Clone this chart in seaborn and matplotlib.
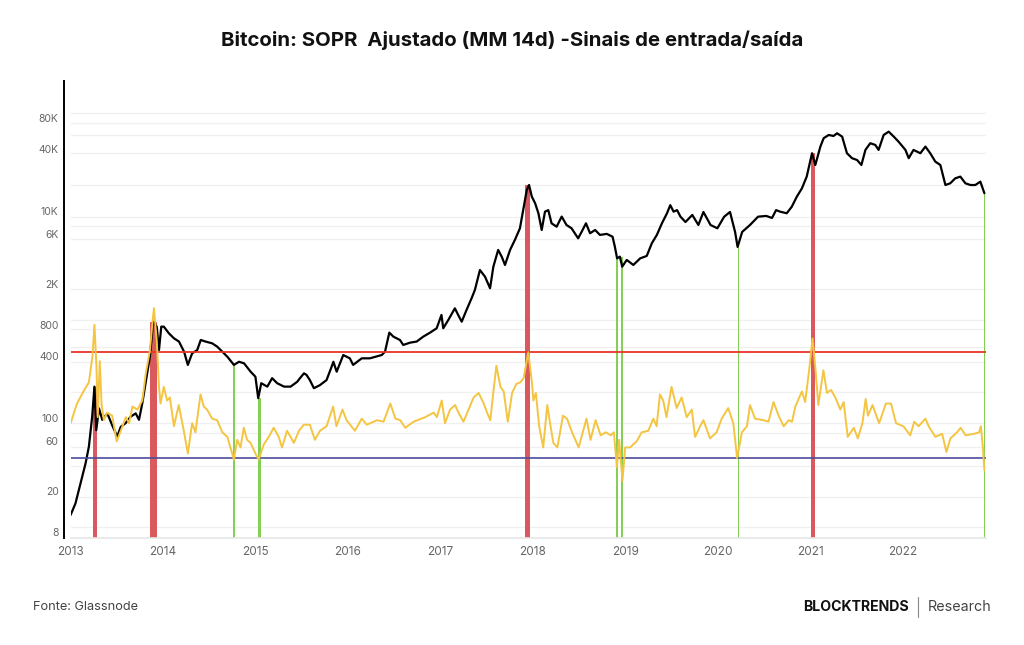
import numpy as np
import pandas as pd
import matplotlib
matplotlib.use("Agg")
import matplotlib.pyplot as plt
import matplotlib.dates as mdates
from matplotlib.lines import Line2D
from matplotlib.ticker import FixedLocator, FixedFormatter, NullFormatter
import seaborn as sns

sns.set_theme(style="white")
plt.rcParams["font.family"] = ["Inter", "DejaVu Sans"]

#=========================================================================================
# Data
#=========================================================================================

# Bitcoin price (USD, log axis)
price_dates = [
    "2013-01-01", "2013-01-20", "2013-02-09", "2013-03-01", "2013-03-14", "2013-03-27", "2013-04-05",
    "2013-04-12", "2013-04-23", "2013-05-06", "2013-05-26", "2013-06-14", "2013-07-04", "2013-07-18",
    "2013-08-06", "2013-08-26", "2013-09-15", "2013-09-28", "2013-10-11", "2013-10-24", "2013-11-10",
    "2013-11-23", "2013-12-07", "2013-12-16", "2013-12-25",
    "2014-01-04", "2014-01-24", "2014-02-13", "2014-03-05", "2014-03-25", "2014-04-09", "2014-04-26",
    "2014-05-16", "2014-05-30", "2014-06-18", "2014-07-14", "2014-08-03", "2014-08-23", "2014-09-12",
    "2014-10-08", "2014-10-28", "2014-11-17", "2014-12-13",
    "2015-01-01", "2015-01-12", "2015-01-24", "2015-02-17", "2015-03-08", "2015-03-28", "2015-04-24",
    "2015-05-20", "2015-06-15", "2015-06-26", "2015-07-12", "2015-07-22", "2015-08-04", "2015-08-20",
    "2015-09-13", "2015-10-09", "2015-10-29", "2015-11-05", "2015-11-18", "2015-12-14",
    "2016-01-09", "2016-01-22", "2016-02-25", "2016-03-28", "2016-05-14", "2016-05-27", "2016-06-13",
    "2016-06-29", "2016-07-25", "2016-08-07", "2016-09-03", "2016-09-29", "2016-10-25", "2016-11-21",
    "2016-12-17",
    "2017-01-05", "2017-01-12", "2017-02-01", "2017-02-27", "2017-03-12", "2017-03-26", "2017-04-14",
    "2017-05-04", "2017-05-17", "2017-06-06", "2017-06-26", "2017-07-16", "2017-07-29", "2017-08-17",
    "2017-08-31", "2017-09-13", "2017-10-03", "2017-10-22", "2017-11-11", "2017-11-24", "2017-12-08",
    "2017-12-17", "2017-12-28",
    "2018-01-10", "2018-01-23", "2018-02-05", "2018-02-18", "2018-03-03", "2018-03-16", "2018-04-05",
    "2018-04-25", "2018-05-14", "2018-06-03", "2018-06-29", "2018-07-13", "2018-07-30", "2018-08-15",
    "2018-09-04", "2018-09-23", "2018-10-20", "2018-11-12", "2018-11-21", "2018-11-30", "2018-12-11",
    "2018-12-20",
    "2019-01-07", "2019-02-02", "2019-03-01", "2019-03-27", "2019-04-16", "2019-05-06", "2019-05-26",
    "2019-06-15", "2019-06-28", "2019-07-11", "2019-07-25", "2019-08-07", "2019-08-27", "2019-09-23",
    "2019-10-17", "2019-11-06", "2019-12-04", "2019-12-31",
    "2020-01-27", "2020-02-19", "2020-03-10", "2020-03-20", "2020-04-07", "2020-05-08", "2020-06-09",
    "2020-07-11", "2020-08-03", "2020-08-19", "2020-09-04", "2020-09-30", "2020-10-20", "2020-11-09",
    "2020-11-29", "2020-12-18",
    "2021-01-08", "2021-01-21", "2021-02-10", "2021-02-23", "2021-03-15", "2021-04-03", "2021-04-17",
    "2021-05-07", "2021-05-26", "2021-06-15", "2021-07-05", "2021-07-22", "2021-08-07", "2021-08-26",
    "2021-09-15", "2021-09-28", "2021-10-18", "2021-11-07", "2021-11-27", "2021-12-16",
    "2022-01-12", "2022-01-25", "2022-02-13", "2022-03-12", "2022-04-01", "2022-04-20", "2022-05-10",
    "2022-05-30", "2022-06-19", "2022-07-08", "2022-07-28", "2022-08-17", "2022-09-06", "2022-09-26",
    "2022-10-15", "2022-11-04", "2022-11-20",
]
price_usd = [
    11.7, 15.1, 23.7, 36.9, 53.4, 104, 203,
    77, 125, 97, 112, 86, 67, 83,
    90, 104, 112, 97, 140, 219, 395,
    861, 771, 458, 771,
    771, 665, 595, 553, 442, 329, 426,
    458, 573, 553, 532, 494, 442, 395,
    329, 353, 341, 283,
    253, 157, 219, 203, 245, 219, 203,
    203, 226, 245, 273, 263, 235, 196,
    210, 235, 316, 353, 283, 410,
    381, 329, 381, 381, 410, 442, 675,
    617, 573, 513, 540, 553, 617, 675,
    743,
    1000, 743, 894, 1159, 1000, 861, 1117,
    1449, 1742, 2718, 2342, 1811, 2925, 4246,
    3657, 3040, 4246, 5300, 6871, 10300, 16100,
    18000, 13900,
    12000, 9600, 6620, 9950, 10300, 7680, 7120,
    8920, 7400, 6871, 5500, 6370, 7680, 6150,
    6620, 5930, 6070, 5700, 4570, 3520, 3657,
    2925,
    3400, 3040, 3520, 3715, 4920, 5930, 7680,
    9600, 11500, 9950, 10300, 8920, 7900, 9250,
    7400, 9880, 7400, 6870,
    8900, 9880, 6340, 4540, 6340, 7400, 8900,
    9050, 8650, 10300, 9950, 9600, 11100, 13900,
    16700, 21700,
    36500, 28100, 42300, 51000, 54800, 53600, 56900,
    52800, 36500, 32700, 31400, 28100, 39300, 45600,
    43900, 39300, 54800, 59000, 52800, 47200,
    39300, 32700, 39300, 36500, 42300, 36500, 30300,
    28100, 18000, 18700, 20900, 21700, 18700, 18000,
    18000, 19400, 15000,
]

# SOPR ajustado, media movel 14 dias
sopr_dates = [
    "2013-01-01", "2013-01-26", "2013-02-24", "2013-03-14", "2013-03-28", "2013-04-05", "2013-04-13",
    "2013-04-18", "2013-04-26", "2013-05-03", "2013-05-12", "2013-05-25", "2013-06-14", "2013-07-02",
    "2013-07-18", "2013-08-07", "2013-08-20", "2013-09-02", "2013-09-22", "2013-10-11", "2013-10-25",
    "2013-11-10", "2013-11-20", "2013-11-26", "2013-12-07", "2013-12-16", "2013-12-22",
    "2014-01-04", "2014-01-17", "2014-01-28", "2014-02-13", "2014-03-04", "2014-03-24", "2014-04-09",
    "2014-04-26", "2014-05-09", "2014-05-29", "2014-06-11", "2014-06-24", "2014-07-14", "2014-08-03",
    "2014-08-23", "2014-09-12", "2014-10-08", "2014-10-21", "2014-11-03", "2014-11-16", "2014-11-29",
    "2014-12-13",
    "2015-01-01", "2015-01-14", "2015-02-03", "2015-02-23", "2015-03-14", "2015-04-03", "2015-04-16",
    "2015-05-06", "2015-06-02", "2015-06-22", "2015-07-11", "2015-08-04", "2015-08-24", "2015-09-13",
    "2015-10-09", "2015-11-04", "2015-11-17", "2015-12-11", "2015-12-27",
    "2016-01-29", "2016-02-25", "2016-03-16", "2016-04-25", "2016-05-21", "2016-06-17", "2016-07-07",
    "2016-07-26", "2016-08-15", "2016-09-17", "2016-11-02", "2016-12-05", "2016-12-18",
    "2017-01-06", "2017-01-19", "2017-02-08", "2017-02-28", "2017-03-13", "2017-04-02", "2017-04-22",
    "2017-05-12", "2017-06-01", "2017-06-21", "2017-07-04", "2017-07-17", "2017-07-30", "2017-08-10",
    "2017-08-26", "2017-09-08", "2017-09-24", "2017-10-11", "2017-10-28", "2017-11-13", "2017-11-26",
    "2017-12-14", "2017-12-29",
    "2018-01-03", "2018-01-13", "2018-01-26", "2018-02-11", "2018-02-27", "2018-03-10", "2018-03-23",
    "2018-04-08", "2018-04-30", "2018-05-16", "2018-06-05", "2018-07-01", "2018-08-01", "2018-08-17",
    "2018-09-06", "2018-09-26", "2018-10-16", "2018-11-05", "2018-11-17", "2018-11-29", "2018-12-08",
    "2018-12-21",
    "2019-01-01", "2019-01-20", "2019-02-15", "2019-03-07", "2019-04-02", "2019-04-22", "2019-05-05",
    "2019-05-18", "2019-05-31", "2019-06-13", "2019-07-03", "2019-07-23", "2019-08-12", "2019-09-01",
    "2019-09-21", "2019-10-04", "2019-10-24", "2019-11-06", "2019-12-02", "2019-12-28",
    "2020-01-17", "2020-02-12", "2020-03-03", "2020-03-18", "2020-04-06", "2020-04-26", "2020-05-08",
    "2020-05-28", "2020-06-30", "2020-07-20", "2020-08-09", "2020-08-29", "2020-09-18", "2020-10-08",
    "2020-10-21", "2020-11-03", "2020-11-16", "2020-11-29", "2020-12-12", "2020-12-29",
    "2021-01-10", "2021-01-21", "2021-02-02", "2021-02-22", "2021-03-08", "2021-03-24", "2021-04-10",
    "2021-04-30", "2021-05-13", "2021-05-29", "2021-06-22", "2021-07-08", "2021-07-26", "2021-08-08",
    "2021-08-17", "2021-09-04", "2021-09-30", "2021-10-27", "2021-11-16", "2021-12-06",
    "2022-01-04", "2022-01-31", "2022-02-16", "2022-03-05", "2022-04-01", "2022-04-14", "2022-05-10",
    "2022-06-06", "2022-06-23", "2022-07-09", "2022-08-04", "2022-08-18", "2022-09-07", "2022-10-10",
    "2022-10-30", "2022-11-06", "2022-11-14", "2022-11-20",
]
sopr_values = [
    1.003, 1.016, 1.025, 1.030, 1.047, 1.068, 1.040,
    1.007, 1.044, 1.016, 1.005, 1.010, 1.008, 0.991,
    0.998, 1.007, 1.003, 1.014, 1.012, 1.018, 1.036,
    1.051, 1.069, 1.079, 1.058, 1.027, 1.016,
    1.027, 1.018, 1.020, 1.001, 1.015, 0.998, 0.983,
    1.003, 0.997, 1.022, 1.014, 1.012, 1.006, 1.005,
    0.997, 0.994, 0.979, 0.992, 0.987, 1.000, 0.992,
    0.990,
    0.983, 0.979, 0.989, 0.994, 1.000, 0.994, 0.987,
    0.998, 0.990, 0.998, 1.002, 1.002, 0.992, 0.998,
    1.001, 1.014, 1.001, 1.012, 1.005,
    0.998, 1.006, 1.002, 1.005, 1.004, 1.016, 1.006,
    1.005, 1.000, 1.004, 1.007, 1.010, 1.007,
    1.018, 1.003, 1.012, 1.015, 1.010, 1.004, 1.012,
    1.020, 1.023, 1.016, 1.010, 1.005, 1.025, 1.041,
    1.027, 1.024, 1.004, 1.023, 1.029, 1.030, 1.033,
    1.050, 1.029,
    1.018, 1.023, 1.001, 0.987, 1.015, 1.003, 0.990,
    0.987, 1.008, 1.006, 0.997, 0.987, 1.006, 0.992,
    1.005, 0.995, 0.997, 0.995, 0.997, 0.974, 0.992,
    0.965,
    0.987, 0.987, 0.991, 0.997, 0.998, 1.006, 1.001,
    1.022, 1.018, 1.007, 1.027, 1.013, 1.020, 1.007,
    1.012, 0.994, 1.001, 1.005, 0.993, 0.997,
    1.006, 1.013, 1.003, 0.980, 0.997, 1.001, 1.015,
    1.006, 1.005, 1.004, 1.017, 1.008, 1.001, 1.005,
    1.004, 1.014, 1.019, 1.024, 1.017, 1.040,
    1.059, 1.040, 1.015, 1.038, 1.023, 1.025, 1.020,
    1.012, 1.017, 0.994, 1.000, 0.993, 1.003, 1.019,
    1.008, 1.015, 1.003, 1.016, 1.016, 1.003,
    1.001, 0.995, 1.004, 1.001, 1.006, 1.001, 0.994,
    0.996, 0.984, 0.993, 0.997, 1.000, 0.995, 0.996,
    0.997, 1.001, 0.987, 0.972,
]

# Thresholds for the signals (SOPR)
sopr_exit_level = 1.05
sopr_entry_level = 0.98

# Exit signals (red) and entry signals (green): window start, window end, price at the signal
exit_start = ["2013-03-30", "2013-11-11", "2017-12-03", "2021-01-04"]
exit_end = ["2013-04-17", "2013-12-08", "2017-12-22", "2021-01-21"]
exit_price = [203, 861, 18000, 36500]

entry_start = ["2014-10-06", "2015-01-12", "2018-11-24", "2018-12-14", "2020-03-21", "2022-11-18"]
entry_end = ["2014-10-12", "2015-01-22", "2018-12-03", "2018-12-24", "2020-03-25", "2022-11-23"]
entry_price = [329, 157, 3520, 3657, 4540, 15000]

y_ticks = [8, 20, 60, 100, 400, 800, 2000, 6000, 10000, 40000, 80000]
y_tick_labels = ["8", "20", "60", "100", "400", "800", "2K", "6K", "10K", "40K", "80K"]
grid_levels = [8.9, 17.4, 35, 53, 72, 90, 180, 351, 490, 731, 894, 1780, 5400, 7200,
               8850, 18000, 36700, 54800, 71600, 89000]

price = pd.DataFrame({"date": pd.to_datetime(price_dates), "price": price_usd})
sopr = pd.DataFrame({"date": pd.to_datetime(sopr_dates), "sopr": sopr_values})

PRICE_FLOOR = 7.0
X_START = pd.Timestamp("2013-01-01")
X_END = pd.Timestamp("2022-11-26")

#=========================================================================================
# Figure
#=========================================================================================
fig = plt.figure(figsize=(10.24, 6.45), dpi=100, facecolor="white")
ax = fig.add_axes([0.0690, 0.1659, 0.8938, 0.7085])

# signal bars, from the bottom of the chart up to the price
def draw_signals(starts, ends, tops, color):
    s = mdates.date2num(pd.to_datetime(starts))
    e = mdates.date2num(pd.to_datetime(ends))
    tops = np.array(tops, dtype=float)
    ax.bar(s, tops - PRICE_FLOOR, bottom=PRICE_FLOOR, width=e - s, align="edge",
           color=color, linewidth=0, zorder=1)

draw_signals(exit_start, exit_end, exit_price, "#d9595c")
draw_signals(entry_start, entry_end, entry_price, "#86cf55")

sns.lineplot(data=price, x="date", y="price", ax=ax, color="black", linewidth=1.6, zorder=3)
ax.set_yscale("log")
ax.set_ylim(PRICE_FLOOR, 182000)
ax.set_xlim(X_START, X_END)

ax.yaxis.set_major_locator(FixedLocator(y_ticks))
ax.yaxis.set_major_formatter(FixedFormatter(y_tick_labels))
ax.yaxis.set_minor_locator(FixedLocator(grid_levels))
ax.yaxis.set_minor_formatter(NullFormatter())
ax.grid(which="minor", axis="y", color="#f0f0f0", linewidth=1.0)
ax.grid(which="major", visible=False)
ax.tick_params(axis="y", which="both", length=0, pad=4, labelsize=7.5, labelcolor="#666666")

ax.xaxis.set_major_locator(mdates.YearLocator())
ax.xaxis.set_major_formatter(mdates.DateFormatter("%Y"))
ax.tick_params(axis="x", which="major", direction="in", length=3, color="#e0e0e0",
               pad=6, labelsize=8.5, labelcolor="#666666")
ax.set_xlabel("")
ax.set_ylabel("")

for side in ["top", "right"]:
    ax.spines[side].set_visible(False)
ax.spines["left"].set_position(("outward", 4.7))
ax.spines["left"].set_color("black")
ax.spines["left"].set_linewidth(1.4)
ax.spines["bottom"].set_color("#e6e6e6")
ax.spines["bottom"].set_linewidth(1.2)

# SOPR on a hidden second axis
ax2 = ax.twinx()
ax2.axhline(sopr_exit_level, color="#e8352a", linewidth=1.3, zorder=2)
ax2.axhline(sopr_entry_level, color="#4b4c9c", linewidth=1.2, zorder=2)
sns.lineplot(data=sopr, x="date", y="sopr", ax=ax2, color="#f4c542", linewidth=1.4, zorder=3)
ax2.set_ylim(0.9272, 1.229)
ax2.set_xlim(X_START, X_END)
ax2.set_yticks([])
ax2.set_ylabel("")
ax2.set_xlabel("")
for side in ax2.spines:
    ax2.spines[side].set_visible(False)

# Title and footer
fig.text(0.5, 1 - 40 / 645, "Bitcoin: SOPR  Ajustado (MM 14d) -Sinais de entrada/saída",
         ha="center", va="center", fontsize=14.7, fontweight="bold", color="#111111")
fig.text(33 / 1024, 1 - 607 / 645, "Fonte: Glassnode", ha="left", va="center",
         fontsize=9.2, color="#444444")
fig.text(909 / 1024, 1 - 607 / 645, "BLOCKTRENDS", ha="right", va="center",
         fontsize=10.2, fontweight="bold", color="#111111")
fig.text(928 / 1024, 1 - 607 / 645, "Research", ha="left", va="center",
         fontsize=10.3, color="#444444")
fig.add_artist(Line2D([918 / 1024, 918 / 1024], [1 - 617 / 645, 1 - 597 / 645],
                      color="#888888", linewidth=0.8))

plt.savefig("out.png", dpi=100, facecolor="white")
plt.close()
